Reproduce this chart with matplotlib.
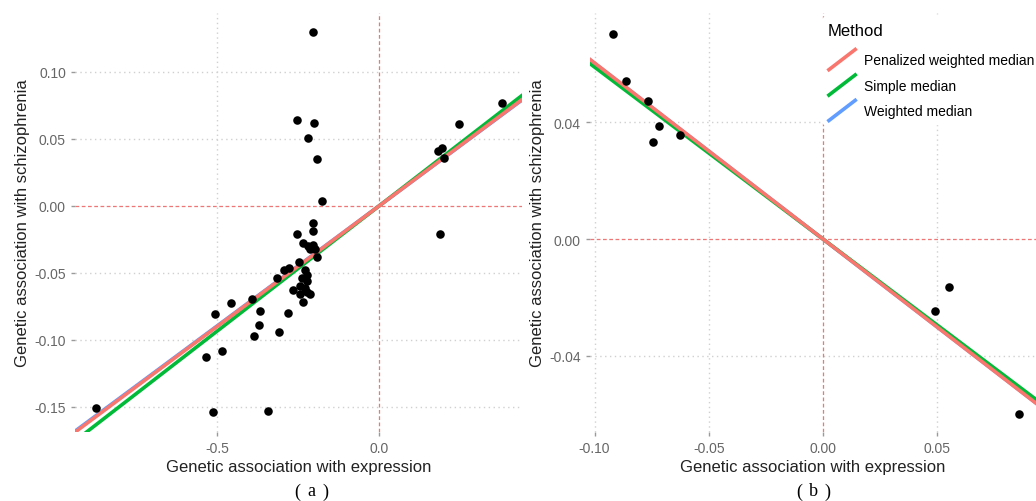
#!/usr/bin/env python3
"""Two-panel MR scatter: SNP associations with expression vs schizophrenia,
with median-based estimator slopes drawn through the origin."""
import matplotlib
matplotlib.use("Agg")
import matplotlib.pyplot as plt
from matplotlib.lines import Line2D

# ---- panel (a) ----
xa = [-0.204, -0.254, -0.200, -0.220, -0.191, -0.177, -0.204, -0.205, -0.252,
      0.181, 0.195, 0.199, 0.246, 0.378, 0.188,
      -0.234, -0.220, -0.213, -0.198, -0.190, -0.246, -0.277, -0.293, -0.314,
      -0.228, -0.223, -0.239, -0.221, -0.244, -0.228, -0.265, -0.213, -0.244,
      -0.234, -0.223, -0.205,
      -0.873, -0.511, -0.343, -0.505, -0.458, -0.393, -0.367, -0.369, -0.385,
      -0.310, -0.281, -0.534, -0.486]
ya = [0.130, 0.064, 0.062, 0.051, 0.035, 0.0035, -0.0125, -0.0187, -0.021,
      0.041, 0.043, 0.0356, 0.061, 0.077, -0.021,
      -0.0276, -0.030, -0.032, -0.032, -0.038, -0.042, -0.046, -0.048, -0.054,
      -0.048, -0.0515, -0.054, -0.0557, -0.0595, -0.061, -0.063, -0.066, -0.066,
      -0.072, -0.0645, -0.029,
      -0.151, -0.1535, -0.153, -0.0806, -0.0724, -0.0694, -0.0786, -0.0888, -0.0968,
      -0.094, -0.080, -0.1127, -0.108]
slopes_a = {"Weighted median": 0.1792, "Simple median": 0.187,
            "Penalized weighted median": 0.180}

# ---- panel (b) ----
xb = [-0.0918, -0.0862, -0.0765, -0.0719, -0.0744, -0.0626, 0.0552, 0.0489, 0.0857]
yb = [0.070, 0.0541, 0.0473, 0.0385, 0.0333, 0.0357, -0.0164, -0.0245, -0.060]
slopes_b = {"Weighted median": -0.601, "Simple median": -0.588,
            "Penalized weighted median": -0.602}

colors = {"Penalized weighted median": "#f8766d",
          "Simple median": "#00ba38",
          "Weighted median": "#619cff"}
legend_order = ["Penalized weighted median", "Simple median", "Weighted median"]

plt.rcParams["font.family"] = ["Liberation Sans", "DejaVu Sans"]


class DiagHandler:
    """ggplot-style abline key: a diagonal stroke."""
    def legend_artist(self, legend, orig_handle, fontsize, handlebox):
        x0, y0 = -handlebox.xdescent, -handlebox.ydescent
        w, h = handlebox.width, handlebox.height
        ln = Line2D([x0, x0 + w], [y0 - h * 0.35, y0 + h * 1.35],
                    color=orig_handle.get_color(), lw=2.6,
                    solid_capstyle="butt")
        ln.set_transform(handlebox.get_transform())
        handlebox.add_artist(ln)
        return ln


def style(ax, xticks, yticks, xfmt, yfmt):
    for s in ax.spines.values():
        s.set_visible(False)
    ax.set_xticks(xticks)
    ax.set_yticks(yticks)
    ax.set_xticklabels([xfmt.format(v) for v in xticks])
    ax.set_yticklabels([yfmt.format(v) for v in yticks])
    ax.tick_params(colors="#9a9a9a", labelcolor="#666666", labelsize=10,
                   length=3, width=1)
    ax.grid(True, color="#d0d0d0", ls=(0, (1, 2.5)), lw=1.0)
    ax.set_axisbelow(True)
    # the red zero lines replace the grid line at 0
    for v, gl in zip(xticks, ax.get_xgridlines()):
        if v == 0:
            gl.set_visible(False)
    for v, gl in zip(yticks, ax.get_ygridlines()):
        if v == 0:
            gl.set_visible(False)
    ax.axhline(0, color="#ee7676", ls=(0, (3, 2)), lw=0.9, zorder=2)
    ax.axvline(0, color="#ee7676", ls=(0, (3, 2)), lw=0.9, zorder=2)
    ax.set_xlabel("Genetic association with expression", fontsize=12,
                  color="#222222", labelpad=3)
    ax.set_ylabel("Genetic association with schizophrenia", fontsize=12,
                  color="#222222", labelpad=3)


W, H = 1036, 502
fig = plt.figure(figsize=(W / 100, H / 100), dpi=100)
axa = fig.add_axes([75 / W, 1 - 433 / H, (522 - 75) / W, (433 - 14) / H])
axb = fig.add_axes([590 / W, 1 - 433 / H, (1036 - 590) / W, (433 - 14) / H])

for ax, xs, ys, slopes in [(axa, xa, ya, slopes_a), (axb, xb, yb, slopes_b)]:
    for name in ["Weighted median", "Simple median", "Penalized weighted median"]:
        ax.axline((0, 0), slope=slopes[name], color=colors[name], lw=2.6,
                  zorder=3, label=name)
    ax.scatter(xs, ys, s=38, color="black", zorder=4, linewidths=0)

axa.set_xlim(-0.938, 0.441)
axa.set_ylim(-0.1687, 0.144)
style(axa, [-0.5, 0.0], [-0.15, -0.10, -0.05, 0.0, 0.05, 0.10], "{:.1f}", "{:.2f}")

axb.set_xlim(-0.102, 0.0933)
axb.set_ylim(-0.066, 0.0773)
style(axb, [-0.10, -0.05, 0.0, 0.05], [-0.04, 0.0, 0.04], "{:.2f}", "{:.2f}")

handles = [Line2D([], [], color=colors[n]) for n in legend_order]
leg = axb.legend(handles, legend_order, title="Method", loc="upper left",
                 bbox_to_anchor=(0.52, 0.99), frameon=True, fontsize=10,
                 title_fontsize=12, handler_map={Line2D: DiagHandler()},
                 handlelength=2.1, handleheight=1.08, handletextpad=0.5,
                 labelspacing=0.8, borderpad=0.4, borderaxespad=0.0)
leg._legend_box.align = "left"
leg._legend_box.sep = 11
leg.get_frame().set_facecolor("white")
leg.get_frame().set_edgecolor("white")
leg.get_frame().set_alpha(1.0)
leg.set_zorder(10)

# panel tags: wide serif parentheses around the letter
for xc, lab in [(311, "a"), (813, "b")]:
    for dx, ch in [(-14, "("), (0, lab), (14, ")")]:
        fig.text((xc + dx) / W, 1 - 492 / H, ch, ha="center", va="center",
                 fontsize=13, family="Liberation Serif")

fig.savefig("out.png", dpi=100)
